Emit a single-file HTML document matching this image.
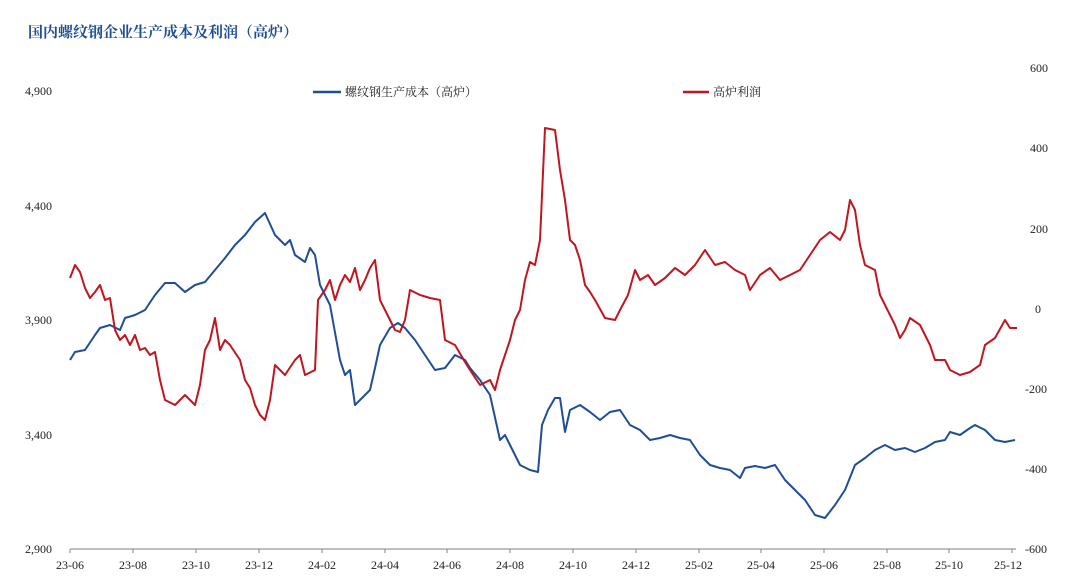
<!DOCTYPE html>
<html><head><meta charset="utf-8"><style>
html,body{margin:0;padding:0;background:#fff;}
svg{display:block;font-family:"Liberation Serif","Noto Serif CJK SC",serif;}
</style></head><body>
<svg width="1080" height="587" viewBox="0 0 1080 587" xmlns="http://www.w3.org/2000/svg">
<rect width="1080" height="587" fill="#fff"/>
<text x="28" y="37" font-size="15" font-weight="bold" fill="#1f4e96" font-family="Noto Serif CJK SC, serif">国内螺纹钢企业生产成本及利润（高炉）</text>
<g font-size="12" fill="#222">
<text x="25" y="95">4,900</text><text x="25" y="210">4,400</text><text x="25" y="324">3,900</text><text x="25" y="439">3,400</text><text x="25" y="553">2,900</text>
<text x="1030" y="72">600</text><text x="1030" y="152">400</text><text x="1030" y="233">200</text><text x="1035" y="313">0</text><text x="1025" y="393">-200</text><text x="1025" y="473">-400</text><text x="1025" y="553">-600</text>
</g>
<line x1="70" y1="549" x2="1016" y2="549" stroke="#999" stroke-width="1.2"/>
<g stroke="#999" stroke-width="1.2">
<line x1="70" y1="549" x2="70" y2="553"/><line x1="133" y1="549" x2="133" y2="553"/><line x1="196" y1="549" x2="196" y2="553"/><line x1="259" y1="549" x2="259" y2="553"/><line x1="322" y1="549" x2="322" y2="553"/><line x1="385" y1="549" x2="385" y2="553"/><line x1="447" y1="549" x2="447" y2="553"/><line x1="510" y1="549" x2="510" y2="553"/><line x1="573" y1="549" x2="573" y2="553"/><line x1="636" y1="549" x2="636" y2="553"/><line x1="699" y1="549" x2="699" y2="553"/><line x1="761" y1="549" x2="761" y2="553"/><line x1="824" y1="549" x2="824" y2="553"/><line x1="887" y1="549" x2="887" y2="553"/><line x1="949" y1="549" x2="949" y2="553"/><line x1="1012" y1="549" x2="1012" y2="553"/>
</g>
<g font-size="12" fill="#222" text-anchor="middle">
<text x="70" y="569">23-06</text><text x="133" y="569">23-08</text><text x="196" y="569">23-10</text><text x="259" y="569">23-12</text><text x="322" y="569">24-02</text><text x="385" y="569">24-04</text><text x="447" y="569">24-06</text><text x="510" y="569">24-08</text><text x="573" y="569">24-10</text><text x="636" y="569">24-12</text><text x="699" y="569">25-02</text><text x="761" y="569">25-04</text><text x="824" y="569">25-06</text><text x="887" y="569">25-08</text><text x="949" y="569">25-10</text><text x="1008" y="569">25-12</text>
</g>
<line x1="313" y1="92" x2="341" y2="92" stroke="#1f4e96" stroke-width="2.5"/>
<text x="345" y="96" font-size="12" fill="#222" font-family="Noto Serif CJK SC, serif">螺纹钢生产成本（高炉）</text>
<line x1="683" y1="92" x2="709" y2="92" stroke="#c0161f" stroke-width="2.5"/>
<text x="713" y="96" font-size="12" fill="#222" font-family="Noto Serif CJK SC, serif">高炉利润</text>
<polyline fill="none" stroke="#1f4e96" stroke-width="2" stroke-linejoin="round" points="70,360 75,352 85,350 95,335 100,328 110,325 120,330 125,318 135,315 145,310 155,295 165,283 175,283 185,292 195,285 205,282 215,270 225,258 235,245 245,235 255,222 265,213 275,235 285,245 290,240 295,255 305,262 310,248 315,255 320,285 330,305 340,360 345,375 350,370 355,405 360,400 365,395 370,390 375,368 380,345 390,328 398,323 405,328 415,340 425,355 435,370 445,368 455,355 465,360 470,368 480,380 490,395 500,440 505,435 510,445 520,465 530,470 538,472 542,425 548,410 555,398 560,398 565,432 570,410 580,405 590,412 600,420 610,412 620,410 630,425 640,430 650,440 660,438 670,435 680,438 690,440 700,455 710,465 720,468 730,470 740,478 745,468 755,466 765,468 775,465 785,480 795,490 805,500 815,515 825,518 835,505 845,490 855,465 865,458 875,450 885,445 895,450 905,448 915,452 925,448 935,442 945,440 950,432 960,435 970,428 975,425 985,430 995,440 1005,442 1015,440"/>
<polyline fill="none" stroke="#c0161f" stroke-width="2" stroke-linejoin="round" points="70,278 75,265 80,272 85,288 90,298 95,292 100,285 105,300 110,298 115,330 120,340 125,335 130,345 135,335 140,350 145,348 150,355 155,352 160,380 165,400 175,405 180,400 185,395 195,405 200,385 205,350 210,340 215,318 220,350 225,340 230,345 240,360 245,380 250,388 255,405 260,415 265,420 270,400 275,365 285,375 295,360 300,355 305,375 315,370 318,300 325,290 330,280 335,300 340,285 345,275 350,282 355,268 360,290 365,280 370,268 375,260 380,300 385,310 390,320 395,330 400,332 405,320 410,290 420,295 430,298 440,300 445,340 455,345 465,362 470,370 480,385 490,380 495,390 500,370 510,340 515,320 520,310 525,280 530,262 535,265 540,240 545,128 555,130 560,170 565,200 570,240 575,245 580,260 585,285 590,292 595,300 605,318 615,320 620,310 628,295 635,270 640,280 648,275 655,285 665,278 675,268 685,275 695,265 705,250 715,265 725,262 735,270 745,275 750,290 760,275 770,268 780,280 790,275 800,270 810,255 820,240 830,232 840,240 845,230 850,200 855,210 860,245 865,265 875,270 880,295 885,305 895,325 900,338 905,330 910,318 920,325 930,345 935,360 945,360 950,370 960,375 970,372 980,365 985,345 995,338 1005,320 1010,328 1017,328"/>
</svg>
</body></html>
